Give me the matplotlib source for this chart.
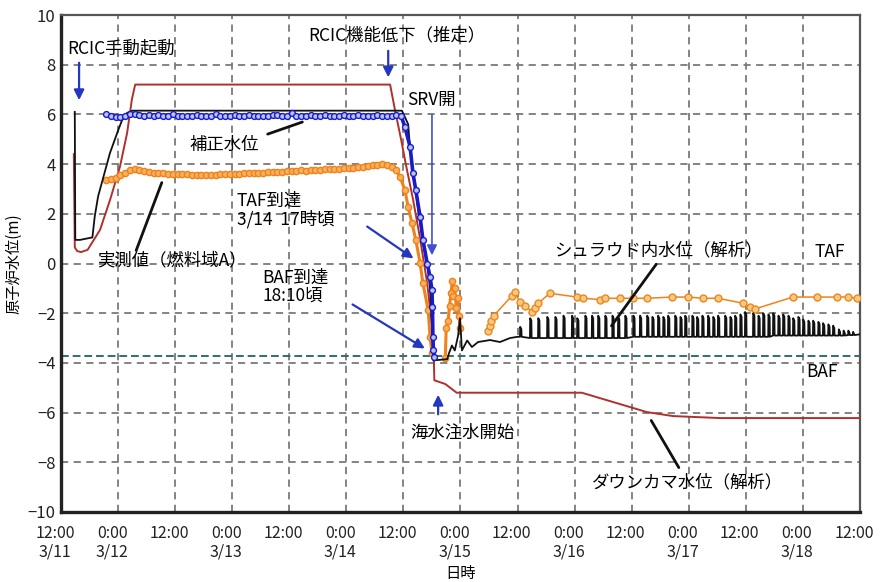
import numpy as np
import matplotlib
matplotlib.use("Agg")
import matplotlib.pyplot as plt
import matplotlib.transforms as mtransforms

plt.rcParams['font.family'] = ['Noto Sans CJK JP', 'DejaVu Sans']

# ---- data (time in hours from 3/11 12:00, level in m) ----
xtick_hours = list(range(0, 169, 12))
xtick_labels = ["12:00\n3/11", "0:00\n3/12", "12:00", "0:00\n3/13", "12:00",
                "0:00\n3/14", "12:00", "0:00\n3/15", "12:00", "0:00\n3/16",
                "12:00", "0:00\n3/17", "12:00", "0:00\n3/18", "12:00"]
ytick_vals = list(range(-10, 11, 2))

# downcomer level (analysis)
down_t = [2.7, 2.9, 3.4, 4.2, 5.6, 8.2, 10.3, 12.4, 13.9, 14.9, 15.6, 69.2, 70.2,
          71.5, 72.5, 74.0, 75.5, 77.0, 78.0, 78.4, 78.5, 80.8, 83.2, 109.5, 123.2,
          128.7, 138.6, 168.0]
down_v = [4.4, 0.65, 0.5, 0.46, 0.55, 1.35, 2.55, 3.9, 5.25, 6.6, 7.2, 7.2, 6.2,
          5.0, 4.0, 2.6, 1.0, -0.8, -2.5, -3.9, -4.7, -4.85, -5.2, -5.2, -5.98,
          -6.14, -6.22, -6.22]

# shroud level (analysis) - smooth part
shroud_t = [2.9, 3.0, 4.0, 6.6, 7.1, 7.8, 9.3, 10.3, 12.0, 12.8, 13.9, 15.0, 71.7,
            72.3, 73.0, 73.4, 74.0, 75.0, 76.0, 77.0, 77.6, 78.0, 78.3, 81.2, 81.6,
            82.2, 82.8, 83.5, 83.9, 84.3, 85.4, 86.4, 87.7, 90.2, 92.3, 94.4, 96.0]
shroud_v = [6.1, 0.95, 0.95, 1.05, 1.9, 2.7, 3.75, 4.45, 5.35, 5.75, 6.06, 6.15, 6.15,
            5.9, 5.6, 4.6, 3.8, 2.3, 1.0, 0.0, -1.0, -2.5, -3.9, -3.85, -3.6,
            -3.3, -3.5, -2.9, -2.2, -3.5, -3.1, -3.36, -3.16, -3.08, -3.16, -3.0, -2.95]
# shroud level oscillations (spike time, spike top, base level)
spike_t = [96.5, 98.6, 100.3, 102.2, 103.9, 105.6, 107.4, 108.5, 110.2, 111.6, 112.9,
           114.4, 115.9, 117.1, 118.6, 120.3, 121.7, 123.2, 124.3, 125.5, 126.6, 127.6,
           129.1, 130.2, 131.2, 132.7, 133.7, 134.8, 136.0, 137.1, 138.1, 139.6, 140.7,
           141.7, 142.8, 143.8, 145.5, 146.6, 147.6, 148.7, 149.7, 150.8, 151.8, 152.9,
           153.9, 155.0, 156.0, 157.1, 158.1, 159.2, 160.2, 161.3, 162.3, 163.5, 164.5,
           165.5, 166.5]
spike_top = [-2.55, -2.2, -2.2, -2.15, -2.15, -2.1, -2.1, -2.2, -2.1, -2.1, -2.1,
             -2.1, -2.1, -2.15, -2.1, -2.1, -2.1, -2.1, -2.15, -2.1, -2.15, -2.1,
             -2.1, -2.15, -2.1, -2.1, -2.15, -2.1, -2.1, -2.15, -2.1, -2.1, -2.15,
             -2.1, -2.05, -1.95, -2.0, -2.1, -2.0, -2.05, -2.0, -2.1, -2.05, -2.1,
             -2.2, -2.15, -2.25, -2.3, -2.3, -2.35, -2.4, -2.45, -2.5, -2.65, -2.7,
             -2.7, -2.75]
spike_base = [-2.95, -3.0, -3.0, -3.0, -3.0, -3.0, -3.0, -3.0, -3.0, -3.0, -3.0,
              -3.0, -3.0, -3.0, -3.0, -2.95, -2.95, -2.95, -2.95, -2.95, -2.95, -2.95,
              -2.95, -2.95, -2.95, -2.95, -2.95, -2.95, -2.95, -2.95, -2.95, -2.95, -2.95,
              -2.95, -2.95, -2.95, -2.95, -2.95, -2.95, -2.95, -2.9, -2.9, -2.9, -2.9,
              -2.9, -2.9, -2.9, -2.9, -2.9, -2.9, -2.9, -2.9, -2.9, -2.9, -2.9,
              -2.88, -2.88]
shroud_end_t = 168.0
shroud_end_v = -2.85

# corrected level (blue)
blue_t = [9.5 + i for i in range(63)] + [72.3, 73.4, 74.0, 74.6, 75.5, 76.1, 77.0,
                                          77.6, 78.0, 78.1, 78.2, 78.3, 78.4]
blue_v = [6.0, 5.95, 5.9, 5.88, 5.95, 6.0, 6.0, 5.98, 5.95, 5.96, 5.95, 5.98, 5.95,
          5.95, 6.0, 5.95, 5.92, 5.95, 5.95, 5.97, 5.95, 5.93, 5.95, 6.0, 5.95, 5.92,
          5.95, 5.96, 5.95, 5.95, 5.98, 5.95, 5.95, 5.93, 5.95, 5.97, 5.96, 5.95, 5.95,
          6.05, 5.95, 5.93, 5.95, 5.97, 5.95, 5.95, 5.98, 5.95, 5.93, 5.95, 5.97, 5.95,
          5.95, 5.98, 5.95, 5.95, 5.95, 5.97, 5.95, 5.95, 5.95, 5.97, 5.95] + \
         [5.5, 4.7, 3.63, 2.96, 1.88, 0.95, 0.0, -0.54, -1.07, -1.75, -2.96, -3.48, -3.76]

# measured level, fuel zone A (orange) - dense part
orng_t = [9.5 + i for i in range(62)] + [71.3, 72.3, 73.0, 73.8, 74.6, 75.5, 76.1, 77.2,
                                          77.6, 78.0, np.nan, 80.8, 81.0, 81.4, 81.7,
                                          82.0, 82.3, 82.5, 82.8, 83.1, 83.4, 83.7, 83.9]
orng_v = [3.35, 3.4, 3.45, 3.55, 3.65, 3.75, 3.8, 3.78, 3.72, 3.68, 3.65, 3.65, 3.63,
          3.62, 3.62, 3.6, 3.6, 3.6, 3.58, 3.58, 3.57, 3.57, 3.58, 3.58, 3.6, 3.6, 3.6,
          3.62, 3.62, 3.63, 3.65, 3.65, 3.65, 3.66, 3.67, 3.68, 3.7, 3.7, 3.72, 3.73,
          3.72, 3.75, 3.74, 3.76, 3.78, 3.78, 3.8, 3.8, 3.8, 3.82, 3.83, 3.85, 3.85,
          3.87, 3.9, 3.92, 3.95, 3.98, 4.0, 3.95, 3.9, 3.75] + \
         [3.48, 2.96, 2.27, 1.63, 0.95, 0.02, -0.8, -1.87, -2.96, -3.6, np.nan, -3.8,
          -2.6, -2.3, -1.7, -1.2, -0.7, -1.3, -1.0, -1.8, -1.4, -2.1, -2.6]
# measured level - sparse late part
orng2_t = [89.8, 90.2, 90.5, 91.0, 94.8, 95.4, 96.5, 97.6, 99.1, 99.7, 100.3, 102.8,
           108.5, 109.8, 113.3, 114.4, 117.5, 120.3, 123.2, 128.5, 131.9, 135.0, 138.2,
           143.4, 144.9, 145.9, 153.9, 159.0, 163.2, 165.5, 167.4]
orng2_v = [-2.7, -2.5, -2.3, -2.1, -1.3, -1.15, -1.55, -1.7, -1.95, -1.8, -1.6, -1.2,
           -1.35, -1.4, -1.45, -1.4, -1.4, -1.4, -1.4, -1.35, -1.35, -1.4, -1.4,
           -1.6, -1.75, -1.83, -1.35, -1.35, -1.35, -1.35, -1.4]

baf_level = -3.73

# ---- figure ----
fig = plt.figure(figsize=(8.83, 5.82), dpi=100)
ax = fig.add_axes([61/883, 1-512/582, 799/883, 497/582])

ax.set_xlim(0, 168)
ax.set_ylim(-10, 10)
ax.set_xticks(xtick_hours)
ax.set_xticklabels(xtick_labels, fontsize=11.5, linespacing=1.15)
ax.set_yticks(ytick_vals)
ax.set_yticklabels([f"{v}".replace("-", "\u2212") for v in ytick_vals], fontsize=12)
ax.tick_params(length=0, colors='#222')
ax.tick_params(axis='x', pad=9)
ax.tick_params(axis='y', pad=4)
shift = mtransforms.ScaledTranslation(-6/100, 0, fig.dpi_scale_trans)
for lab in ax.get_xticklabels():
    lab.set_transform(lab.get_transform() + shift)

ax.grid(True, linestyle=(0, (4, 3)), color='#7a7a7a', lw=1.3)
ax.set_axisbelow(True)
for s in ['left', 'bottom']:
    ax.spines[s].set_linewidth(2.4)
    ax.spines[s].set_color('#222')
for s in ['top', 'right']:
    ax.spines[s].set_linewidth(1.6)
    ax.spines[s].set_color('#555')

ax.axhline(baf_level, color='#2f6f70', lw=1.4, linestyle=(0, (4, 2)), zorder=2)

# downcomer
ax.plot(down_t, down_v, color='#b0302c', lw=1.4, zorder=3)

# orange measured
ax.plot(orng_t, orng_v, color='#f0821a', lw=2.2, marker='o', ms=4.5,
        mfc='#f7b060', mec='#f0821a', mew=1.0, zorder=4)
ax.plot(orng2_t, orng2_v, color='#f0821a', lw=1.1, marker='o', ms=5,
        mfc='#f9c880', mec='#e88a20', mew=1.0, zorder=4)

# shroud (black)
st = list(shroud_t)
sv = list(shroud_v)
for t, top, base in zip(spike_t, spike_top, spike_base):
    st += [t, t + 0.05, t + 0.3, t + 0.35]
    sv += [base, top, top - 0.1, base]
st.append(shroud_end_t)
sv.append(shroud_end_v)
ax.plot(st, sv, color='#111111', lw=1.3, zorder=5)

# blue corrected
ax.plot(blue_t, blue_v, color='#1a1ac8', lw=2.6, marker='o', ms=4.2,
        mfc='#b8c4ff', mec='#1a1ac8', mew=1.0, zorder=6)

# ---- annotations ----
fs = 12.5
blue_arrow = dict(arrowstyle='-|>', color='#2536c0', lw=1.6, mutation_scale=15)
thin_arrow = dict(arrowstyle='-|>', color='#4050d0', lw=1.2, mutation_scale=15)
pointer = dict(arrowstyle='-', color='#111', lw=2.0)

ax.text(1.26, 8.67, "RCIC手動起動", fontsize=fs, ha='left', va='center')
ax.annotate("", xy=(3.8, 6.46), xytext=(3.8, 8.19), arrowprops=blue_arrow)

ax.text(51.9, 9.2, "RCIC機能低下（推定）", fontsize=fs, ha='left', va='center')
ax.annotate("", xy=(68.8, 7.38), xytext=(68.8, 8.67), arrowprops=blue_arrow)

ax.text(72.8, 6.58, "SRV開", fontsize=fs, ha='left', va='center')
ax.annotate("", xy=(78.0, 0.22), xytext=(78.0, 6.1), arrowprops=thin_arrow, zorder=7)

ax.text(27.1, 4.77, "補正水位", fontsize=fs, ha='left', va='center', zorder=8)
ax.annotate("", xy=(51.3, 5.73), xytext=(42.9, 5.17), arrowprops=pointer, zorder=8)

ax.text(7.6, 0.14, "実測値（燃料域A）", fontsize=fs, ha='left', va='center', zorder=8)
ax.annotate("", xy=(21.4, 3.36), xytext=(15.6, 0.42), arrowprops=pointer, zorder=8)

ax.text(37.0, 2.15, "TAF到達\n3/14  17時頃", fontsize=fs, ha='left', va='center',
        linespacing=1.0)
ax.annotate("", xy=(74.6, 0.14), xytext=(63.9, 1.55), arrowprops=blue_arrow)

ax.text(42.3, -0.95, "BAF到達\n18:10頃", fontsize=fs, ha='left', va='center',
        linespacing=1.0)
ax.annotate("", xy=(77.0, -3.48), xytext=(60.8, -1.59), arrowprops=blue_arrow)

ax.text(73.4, -6.82, "海水注水開始", fontsize=fs, ha='left', va='center')
ax.annotate("", xy=(79.3, -5.17), xytext=(79.3, -6.18), arrowprops=blue_arrow)

ax.text(103.7, 0.54, "シュラウド内水位（解析）", fontsize=fs, ha='left', va='center')
ax.annotate("", xy=(115.4, -2.6), xytext=(125.5, 0.06), arrowprops=pointer, zorder=8)

ax.text(111.6, -8.79, "ダウンカマ水位（解析）", fontsize=fs, ha='left', va='center')
ax.annotate("", xy=(123.8, -6.22), xytext=(130.2, -8.31), arrowprops=pointer, zorder=8)

ax.text(158.5, 0.46, "TAF", fontsize=fs, ha='left', va='center')
ax.text(156.6, -4.37, "BAF", fontsize=fs, ha='left', va='center')

ax.set_ylabel("原子炉水位(m)", fontsize=11, labelpad=4)
ax.set_xlabel("日時", fontsize=11, labelpad=3)

fig.savefig("out.png", dpi=100, facecolor='white')
